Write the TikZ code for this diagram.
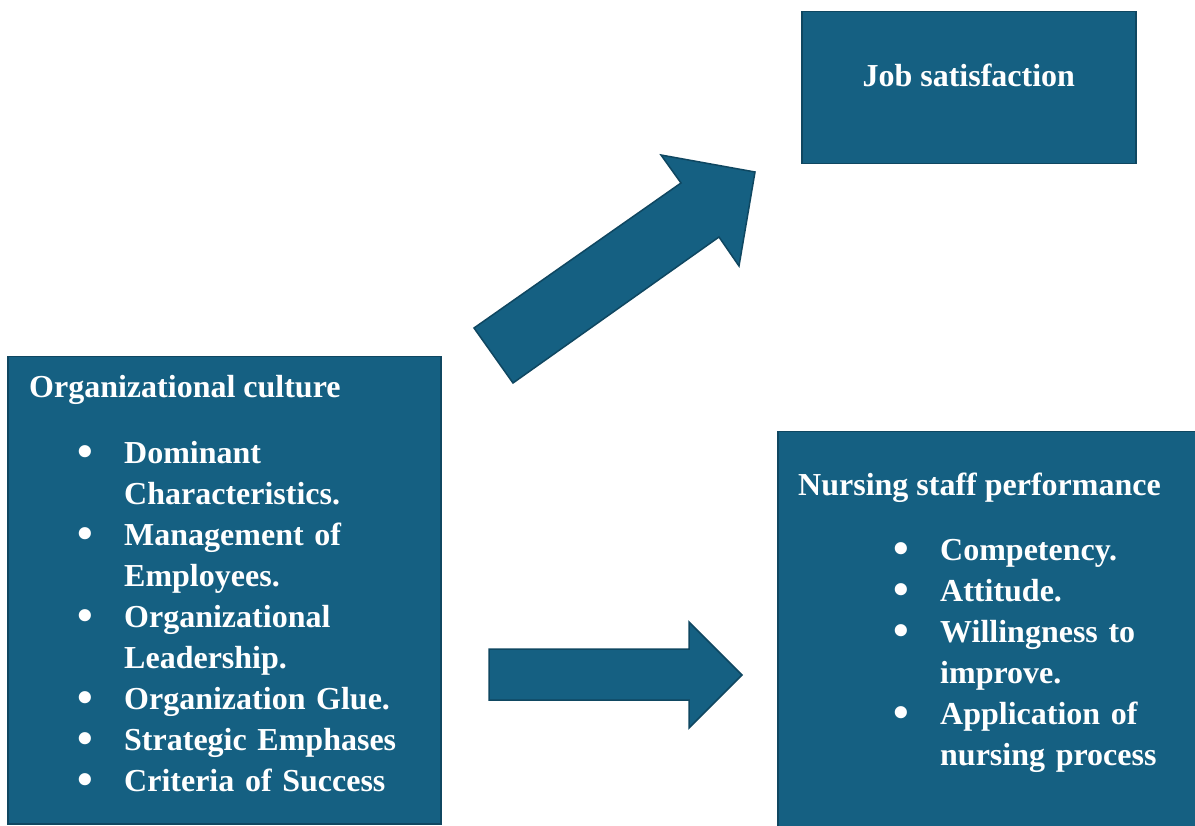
\documentclass[tikz,border=0pt]{standalone}
\usepackage{fontspec}
\setmainfont{Liberation Serif}
\usepackage{tikz}
\usetikzlibrary{positioning,calc}

\definecolor{boxblue}{HTML}{156082}
\definecolor{boxedge}{HTML}{0F4761}

% one bullet line with hanging indent
\newcommand{\bulletline}[1]{\par\noindent\hangindent=47pt\hangafter=1\makebox[47pt][l]{\raisebox{-3pt}{\scalebox{1.4}{\textbullet}}}#1}

\tikzset{
  box/.style={draw=boxedge,fill=boxblue,line width=1.5pt,inner sep=0pt,anchor=north west},
  boxtitle/.style={text=white,font=\bfseries\fontsize{32}{41}\selectfont,inner sep=0pt},
  boxlist/.style={text=white,font=\bfseries\fontsize{32}{41}\selectfont,inner sep=0pt,
    text width=#1,anchor=north west},
  blockarrow/.style={draw=boxedge,fill=boxblue,line width=1.5pt,line join=miter}
}

\begin{document}
\begin{tikzpicture}[x=1pt,y=-1pt]
\clip (0,0) rectangle (1195,826);
\fill[white] (0,0) rectangle (1195,826);

\node[box,minimum width=433pt,minimum height=467pt] (culture) at (7,356) {};
\node[box,minimum width=334pt,minimum height=152pt] (job) at (801,11) {};
\node[box,minimum width=440pt,minimum height=420pt] (nursing) at (777,431) {};

\node[boxtitle,anchor=base] (jobtxt) at ($(job.north)+(0,76)$) {Job satisfaction};

% list tops are first baseline minus 30pt (strut height)
\node[boxtitle,anchor=base west] (culttitle) at ($(culture.north west)+(22,42)$) {Organizational culture};
\node[boxlist=340pt] (cultlist) at ($(culture.north west)+(70,66)$) {\raggedright
  \bulletline{\rule{0pt}{30pt}Dominant\newline Characteristics.}
  \bulletline{Management of\newline Employees.}
  \bulletline{Organizational\newline Leadership.}
  \bulletline{Organization Glue.}
  \bulletline{Strategic Emphases}
  \bulletline{Criteria of Success}\par};

\node[boxtitle,anchor=base west] (nurstitle) at ($(nursing.north west)+(21,64)$) {Nursing staff performance};
\node[boxlist=300pt] (nurslist) at ($(nursing.north west)+(116,88)$) {\raggedright
  \bulletline{\rule{0pt}{30pt}Competency.}
  \bulletline{Attitude.}
  \bulletline{Willingness to\newline improve.}
  \bulletline{Application of\newline nursing process}\par};

% block arrows
\draw[blockarrow] (474,328) -- (681,183) -- (661,155) -- (755,172) -- (739,266) -- (719,237) -- (513,383) -- cycle;
\draw[blockarrow] (489,649) -- (689,649) -- (689,622) -- (742,675) -- (689,728) -- (689,700) -- (489,700) -- cycle;
\end{tikzpicture}
\end{document}
